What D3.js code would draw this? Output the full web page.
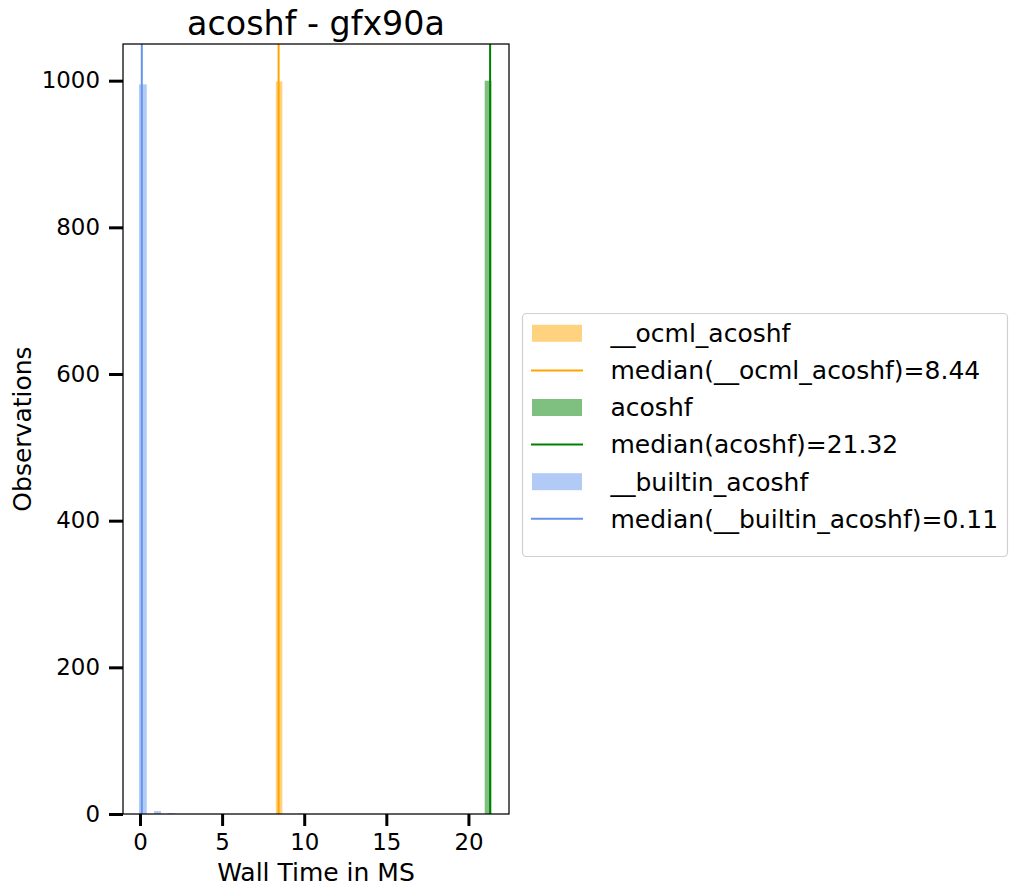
<!DOCTYPE html>
<html>
<head>
<meta charset="utf-8">
<script src="https://cdn.jsdelivr.net/npm/d3@7"></script>
<style>
  body { margin: 0; background: #fff; }
  svg { display: block; font-family: "DejaVu Sans", sans-serif; }
</style>
</head>
<body>
<div id="chart"></div>
<script>
// ---- Data ----
const title = "acoshf - gfx90a";
const xLabel = "Wall Time in MS";
const yLabel = "Observations";
const xTicks = [0, 5, 10, 15, 20];
const yTicks = [0, 200, 400, 600, 800, 1000];

const seriesNames = ["__ocml_acoshf", "acoshf", "__builtin_acoshf"];
const seriesColors = ["#FFA500", "#008000", "#6495ED"];
const medians = [8.44, 21.32, 0.11];

// histogram bars per series: [bin start, bin end, count]
const ocmlBins = [[8.27, 8.67, 999], [9.62, 10.03, 1]];
const acoshfBins = [[20.99, 21.40, 1000]];
const builtinBins = [[-0.06, 0.41, 995], [0.85, 1.28, 4], [1.70, 2.13, 1]];
const allBins = [ocmlBins, acoshfBins, builtinBins];

// ---- Layout ----
const W = 1017, H = 896;
const pLeft = 123, pRight = 509, pTop = 44, pBottom = 814;

const svg = d3.select("#chart").append("svg").attr("width", W).attr("height", H);

const x = d3.scaleLinear().domain([-1.035, 22.47]).range([pLeft, pRight]);
const y = d3.scaleLinear().domain([0, 1050]).range([pBottom, pTop]);

const plot = svg.append("g");

// draw histograms and median lines in order
seriesNames.forEach((name, i) => {
  plot.append("g").selectAll("rect").data(allBins[i]).join("rect")
    .attr("x", d => x(d[0]))
    .attr("width", d => x(d[1]) - x(d[0]))
    .attr("y", d => y(d[2]))
    .attr("height", d => y(0) - y(d[2]))
    .attr("fill", seriesColors[i])
    .attr("fill-opacity", 0.5);
  plot.append("line")
    .attr("x1", x(medians[i])).attr("x2", x(medians[i]))
    .attr("y1", pTop).attr("y2", pBottom)
    .attr("stroke", seriesColors[i]).attr("stroke-width", 2);
});

// spines
svg.append("rect").attr("x", pLeft).attr("y", pTop)
  .attr("width", pRight - pLeft).attr("height", pBottom - pTop)
  .attr("fill", "none").attr("stroke", "#000").attr("stroke-width", 1.25);

// axes
const xAxis = d3.axisBottom(x).tickValues(xTicks).tickFormat(d3.format("d"))
  .tickSizeInner(12).tickSizeOuter(0).tickPadding(8);
const gx = svg.append("g").attr("transform", `translate(0,${pBottom})`).call(xAxis);
gx.select(".domain").remove();
gx.selectAll(".tick line").attr("stroke", "#000").attr("stroke-width", 3);
gx.selectAll(".tick text").attr("font-size", "22.9px").attr("fill", "#000")
  .attr("font-family", "DejaVu Sans, sans-serif");

const yAxis = d3.axisLeft(y).tickValues(yTicks).tickFormat(d3.format("d"))
  .tickSizeInner(14).tickSizeOuter(0).tickPadding(9);
const gy = svg.append("g").attr("transform", `translate(${pLeft},0)`).call(yAxis);
gy.select(".domain").remove();
gy.selectAll(".tick line").attr("stroke", "#000").attr("stroke-width", 3);
gy.selectAll(".tick text").attr("font-size", "22.9px").attr("fill", "#000")
  .attr("font-family", "DejaVu Sans, sans-serif");

// title & labels
svg.append("text").attr("x", (pLeft + pRight) / 2).attr("y", 35)
  .attr("text-anchor", "middle").attr("font-size", "33.3px").text(title);
svg.append("text").attr("x", (pLeft + pRight) / 2).attr("y", 881)
  .attr("text-anchor", "middle").attr("font-size", "25px").text(xLabel);
svg.append("text").attr("transform", `translate(31,${(pTop + pBottom) / 2}) rotate(-90)`)
  .attr("text-anchor", "middle").attr("font-size", "25px").text(yLabel);

// legend
const legend = svg.append("g");
legend.append("rect").attr("x", 522.5).attr("y", 313.5).attr("width", 485).attr("height", 243)
  .attr("rx", 4).attr("fill", "#fff").attr("fill-opacity", 0.8)
  .attr("stroke", "#d0d0d0").attr("stroke-width", 1.2);

const legendItems = [];
seriesNames.forEach((name, i) => {
  legendItems.push({ type: "patch", color: seriesColors[i], label: name });
  legendItems.push({ type: "line", color: seriesColors[i], label: `median(${name})=${medians[i].toFixed(2)}` });
});
const rowY0 = 333.3, rowStep = 37.1;
legendItems.forEach((it, k) => {
  const cy = rowY0 + k * rowStep;
  if (it.type === "patch") {
    legend.append("rect").attr("x", 532).attr("y", cy - 8.5).attr("width", 50).attr("height", 17)
      .attr("fill", it.color).attr("fill-opacity", 0.5);
  } else {
    legend.append("line").attr("x1", 531).attr("x2", 583).attr("y1", cy).attr("y2", cy)
      .attr("stroke", it.color).attr("stroke-width", 2);
  }
  legend.append("text").attr("x", 610.5).attr("y", cy + 8.8)
    .attr("font-size", "25px").attr("fill", "#000").text(it.label);
});
</script>
</body>
</html>
